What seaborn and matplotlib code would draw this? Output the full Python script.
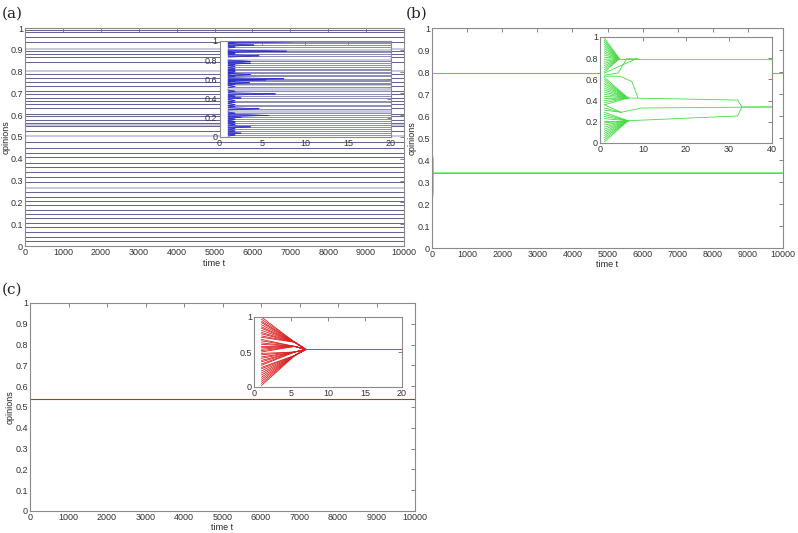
"""
Opinion dynamics: three runs (a) (b) (c), each with an inset of the early transient.
"""
import numpy as np
import pandas as pd
import matplotlib
matplotlib.use('Agg')
import matplotlib.pyplot as plt
import seaborn as sns

# ---------------- data ----------------
# (a) fragmented run: final opinion levels and the time each cluster forms
levels_a = [0.992, 0.981, 0.958, 0.938, 0.894, 0.881, 0.866, 0.845, 0.788, 0.769,
            0.753, 0.734, 0.711, 0.696, 0.681, 0.665, 0.650, 0.634, 0.606, 0.595,
            0.580, 0.565, 0.549, 0.526, 0.477, 0.449, 0.426, 0.406, 0.380, 0.361,
            0.338, 0.318, 0.294, 0.248, 0.225, 0.205, 0.186, 0.163, 0.148, 0.128,
            0.106, 0.086, 0.063, 0.040, 0.021]
tips_a = [8.5, 1.8, 4.0, 1.8, 7.8, 1.8, 1.8, 4.6, 3.6, 3.6,
          1.8, 1.8, 1.8, 1.8, 1.8, 1.8, 3.6, 1.8, 7.5, 5.4,
          1.8, 3.5, 1.8, 1.8, 1.8, 6.5, 1.8, 2.5, 1.8, 1.8,
          1.8, 1.8, 4.6, 1.8, 5.7, 2.5, 1.8, 1.8, 1.8, 1.8,
          3.6, 1.8, 1.8, 2.5, 1.8]
light_a = [0.905, 0.802, 0.556, 0.505, 0.268]
spread_a = [-0.014, -0.007, 0.007, 0.014]

# (b) two final clusters
starts_b_top = [0.99, 0.97, 0.95, 0.93, 0.91, 0.89, 0.87, 0.85, 0.83, 0.81,
                0.79, 0.77, 0.75, 0.73, 0.71, 0.69, 0.67]
starts_b_mid = [0.62, 0.60, 0.58, 0.56, 0.54, 0.52, 0.50, 0.48, 0.46, 0.44,
                0.42, 0.40, 0.38, 0.36]
starts_b_c = [0.36, 0.33, 0.31]
starts_b_low = [0.29, 0.27, 0.25, 0.23, 0.21, 0.19, 0.17, 0.15, 0.13, 0.11,
                0.09, 0.07, 0.05, 0.03, 0.01]
stem_b_top = ([4.5, 10000], [0.795, 0.795])
stem_b_mid = ([6.5, 32, 33, 10000], [0.425, 0.405, 0.34, 0.34])
stem_b_c = ([4.9, 9.7, 40, 10000], [0.29, 0.33, 0.34, 0.34])
stem_b_low = ([6.5, 32, 33], [0.21, 0.255, 0.34])
bridges_b = [([1, 4.2, 6.2, 9.0], [0.64, 0.66, 0.795, 0.795]),
             ([1, 5.4, 8.5], [0.66, 0.74, 0.795]),
             ([1, 4.7, 7.4, 8.8], [0.63, 0.63, 0.58, 0.43])]

# (c) consensus
starts_c = [1.00, 0.97, 0.94, 0.92, 0.89, 0.86, 0.84, 0.81, 0.78, 0.76,
            0.73, 0.71, 0.68, 0.66, 0.63, 0.61, 0.58, 0.56, 0.54, 0.52,
            0.50, 0.48, 0.46, 0.43, 0.41, 0.38, 0.36, 0.33, 0.31, 0.28,
            0.26, 0.23, 0.20, 0.17, 0.14, 0.11, 0.08, 0.05, 0.02]
node_edges_c = [0.3, 0.5, 0.7]
nodes_c = [0.45, 0.50, 0.58, 0.64]
node_t_c = 5.5
consensus_c = (7.0, 0.537)

main_xticks = list(range(0, 10001, 1000))
main_yticks = [0, 0.1, 0.2, 0.3, 0.4, 0.5, 0.6, 0.7, 0.8, 0.9, 1]


def to_frame(paths):
    rows = []
    for k, (ts, ys) in enumerate(paths):
        for t, y in zip(ts, ys):
            rows.append((k, t, y))
    return pd.DataFrame(rows, columns=['unit', 't', 'y'])


def draw(ax, paths, color, lw=0.6):
    if not paths:
        return
    sns.lineplot(data=to_frame(paths), x='t', y='y', units='unit', estimator=None,
                 sort=False, color=color, lw=lw, ax=ax, legend=False)


def lbl(v):
    return f'{v:g}'


def style(ax, xlim, xticks, yticks, fs=6.5):
    ax.set_xlim(*xlim)
    ax.set_ylim(0, 1)
    ax.set_xticks(xticks)
    ax.set_xticklabels([lbl(v) for v in xticks])
    ax.set_yticks(yticks)
    ax.set_yticklabels([lbl(v) for v in yticks])
    ax.tick_params(direction='in', top=True, right=True, length=3, width=0.6,
                   labelsize=fs, pad=1.5, colors='#707070', labelcolor='#333333')
    for s in ax.spines.values():
        s.set_color('#8a8a8a')
        s.set_linewidth(0.8)
    ax.set_xlabel('')
    ax.set_ylabel('')
    ax.set_facecolor('white')


def labels(ax, xl_y, yl_x):
    ax.set_xlabel('time t', fontsize=6.5)
    ax.set_ylabel('opinions', fontsize=6.5)
    ax.xaxis.set_label_coords(0.5, xl_y)
    ax.yaxis.set_label_coords(yl_x, 0.5)


sns.set_theme(style='white')
plt.rcParams['font.family'] = ['Liberation Sans', 'DejaVu Sans']

W, H = 798, 533
fig = plt.figure(figsize=(W / 100, H / 100), dpi=100)


def px_axes(l, t, r, b):
    return fig.add_axes([l / W, 1 - b / H, (r - l) / W, (b - t) / H])


# ---------------- (a) ----------------
wedges_a = []
for lev, tip in zip(levels_a, tips_a):
    for off in spread_a:
        wedges_a.append(([1, tip], [lev + off, lev]))
flat_a = [([1, 10000], [lev, lev]) for lev in levels_a]
flat_light_a = [([1, 10000], [lev, lev]) for lev in light_a]

ax = px_axes(25, 28, 404, 246)
draw(ax, flat_light_a, '#c8c8e0', lw=1.4)
draw(ax, flat_a, '#666692', lw=0.75)
style(ax, (0, 10000), main_xticks, main_yticks)
labels(ax, -0.058, -0.037)

ax = px_axes(219.5, 41, 391, 137)
draw(ax, flat_light_a, '#c8c8e0', lw=2.0)
draw(ax, flat_a, '#7a7aa8', lw=0.6)
draw(ax, wedges_a, '#2a2acc', lw=0.45)
style(ax, (0, 20), [0, 5, 10, 15, 20], [0, 0.2, 0.4, 0.6, 0.8, 1])

# ---------------- (b) ----------------
green = '#44dd44'
paths_b = []
paths_b += [([1, stem_b_top[0][0]], [s, stem_b_top[1][0]]) for s in starts_b_top]
paths_b += [([1, stem_b_mid[0][0]], [s, stem_b_mid[1][0]]) for s in starts_b_mid]
paths_b += [([1, stem_b_c[0][0]], [s, stem_b_c[1][0]]) for s in starts_b_c]
paths_b += [([1, stem_b_low[0][0]], [s, stem_b_low[1][0]]) for s in starts_b_low]
paths_b += [stem_b_top, stem_b_mid, stem_b_c, stem_b_low] + bridges_b

ax = px_axes(432, 28, 783, 248)
draw(ax, paths_b, green, lw=0.8)
style(ax, (0, 10000), main_xticks, main_yticks)
labels(ax, -0.055, -0.043)

ax = px_axes(600, 37, 772, 143)
draw(ax, paths_b, green, lw=0.6)
style(ax, (0, 40), [0, 10, 20, 30, 40], [0, 0.2, 0.4, 0.6, 0.8, 1])

# ---------------- (c) ----------------
red = '#dd2020'
groups_c = np.digitize(starts_c, node_edges_c)
paths_c = [([1, node_t_c, consensus_c[0]], [s, nodes_c[g], consensus_c[1]])
           for s, g in zip(starts_c, groups_c)]
paths_c.append(([consensus_c[0], 10000], [consensus_c[1], consensus_c[1]]))

ax = px_axes(30, 303, 415, 511)
draw(ax, paths_c, red, lw=0.8)
style(ax, (0, 10000), main_xticks, main_yticks)
labels(ax, -0.058, -0.039)

ax = px_axes(254, 317, 402, 387)
draw(ax, paths_c, red, lw=0.6)
style(ax, (0, 20), [0, 5, 10, 15, 20], [0, 0.5, 1])

for txt, x, y in [('(a)', 2, 18), ('(b)', 406, 18), ('(c)', 2, 294)]:
    fig.text(x / W, 1 - y / H, txt, family='DejaVu Serif', fontsize=11, color='#222222')

fig.savefig('out.png', dpi=100)
